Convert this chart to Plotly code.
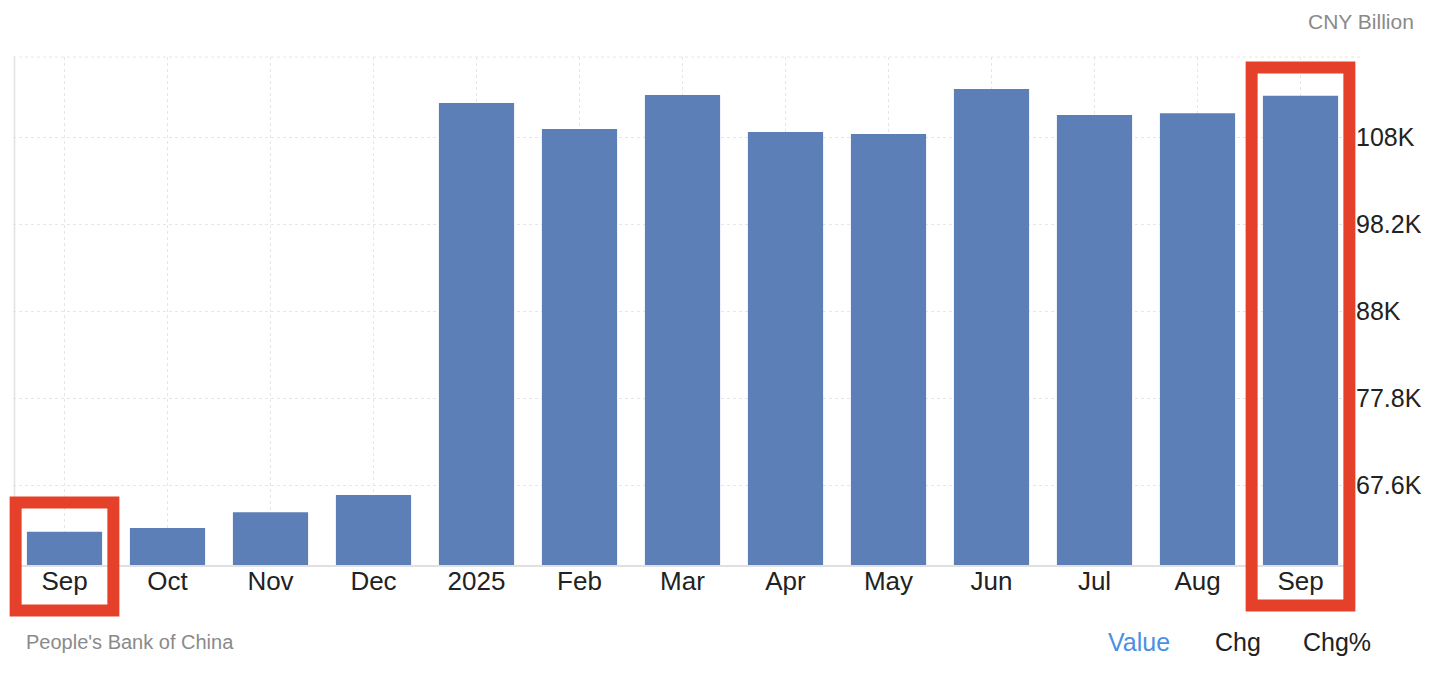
import plotly.graph_objects as go

categories = ["Sep", "Oct", "Nov", "Dec", "2025", "Feb", "Mar", "Apr", "May", "Jun", "Jul", "Aug", "Sep "]
values = [62130, 62560, 64400, 66430, 112390, 109340, 113320, 108990, 108750, 114030, 110970, 111180, 113250]
tick_vals = [67600, 77800, 88000, 98200, 108400]
tick_text = ["67.6K", "77.8K", "88K", "98.2K", "108K"]
highlight_idx = [0, 12]

# page body has an 8px margin; figure is offset by it
OFF = 8
W, H = 1440, 665
L, T = 13 - OFF, 57 - OFF
plot_w = 1352 - 13
plot_h = 565 - 57
R = W - L - plot_w
B = H - T - plot_h
n = len(categories)

fig = go.Figure()
fig.add_trace(go.Bar(
    x=list(range(n)), y=values,
    marker=dict(color="#5b7fb6", line=dict(width=0)),
    width=0.73,
    hoverinfo="x+y",
))

font_family = "Liberation Sans, Arial, Helvetica, sans-serif"

def sx(px):
    """screen x pixel -> paper fraction"""
    return (px - OFF - L) / plot_w

def sy(py):
    """screen y pixel -> paper fraction"""
    return (OFF + T + plot_h - py) / plot_h

shapes = []
shapes.append(dict(type="line", xref="paper", yref="paper", x0=sx(14.5), x1=sx(14.5), y0=0, y1=1,
                   line=dict(color="#e3e3e3", width=1.5)))
shapes.append(dict(type="line", xref="paper", yref="paper", x0=0, x1=sx(1363), y0=1, y1=1,
                   line=dict(color="#e6e6e6", width=1, dash="dot")))

rect_y = {0: (610.5, 502.5), 12: (605.5, 67.5)}
half_w = 0.0365
for i in highlight_idx:
    cx = (i + 0.5) / n
    yb, yt = rect_y[i]
    shapes.append(dict(type="rect", xref="paper", yref="paper",
                       x0=cx - half_w, x1=cx + half_w,
                       y0=sy(yb), y1=sy(yt),
                       line=dict(color="#e5402a", width=12), fillcolor="rgba(0,0,0,0)",
                       layer="above"))

annotations = [
    dict(text="CNY Billion", xref="paper", yref="paper", x=sx(1416), y=sy(22),
         xanchor="right", yanchor="middle", showarrow=False,
         font=dict(size=21, color="#8a8a8a", family=font_family)),
    dict(text="People's Bank of China", xref="paper", yref="paper", x=sx(24), y=sy(642),
         xanchor="left", yanchor="middle", showarrow=False,
         font=dict(size=20, color="#8a8a8a", family=font_family)),
    dict(text="Value", xref="paper", yref="paper", x=sx(1139), y=sy(642),
         xanchor="center", yanchor="middle", showarrow=False,
         font=dict(size=25, color="#4a90e2", family=font_family)),
    dict(text="Chg", xref="paper", yref="paper", x=sx(1238), y=sy(642),
         xanchor="center", yanchor="middle", showarrow=False,
         font=dict(size=25, color="#222222", family=font_family)),
    dict(text="Chg%", xref="paper", yref="paper", x=sx(1337), y=sy(642),
         xanchor="center", yanchor="middle", showarrow=False,
         font=dict(size=25, color="#222222", family=font_family)),
]

fig.update_layout(
    width=W, height=H,
    margin=dict(l=L, r=R, t=T, b=B, pad=0),
    paper_bgcolor="white", plot_bgcolor="white",
    showlegend=False,
    font=dict(family=font_family),
    shapes=shapes,
    annotations=annotations,
    xaxis=dict(
        tickmode="array", tickvals=list(range(n)), ticktext=[c.strip() for c in categories],
        range=[-0.5, n - 0.5],
        showgrid=True, gridcolor="#e6e6e6", griddash="dot", gridwidth=1,
        showline=True, linecolor="#e0e0e0", linewidth=1.5,
        ticks="", tickfont=dict(size=26, color="#222222", family=font_family),
        ticklabelstandoff=-8,
        zeroline=False, fixedrange=True,
    ),
    yaxis=dict(
        side="right",
        range=[58220, 117780],
        tickmode="array", tickvals=tick_vals, ticktext=tick_text,
        showgrid=True, gridcolor="#e6e6e6", griddash="dot", gridwidth=1,
        showline=False, zeroline=False, ticks="",
        tickfont=dict(size=25, color="#222222", family=font_family),
        ticklabelstandoff=3,
        fixedrange=True,
    ),
)

fig.write_html("out.html")
